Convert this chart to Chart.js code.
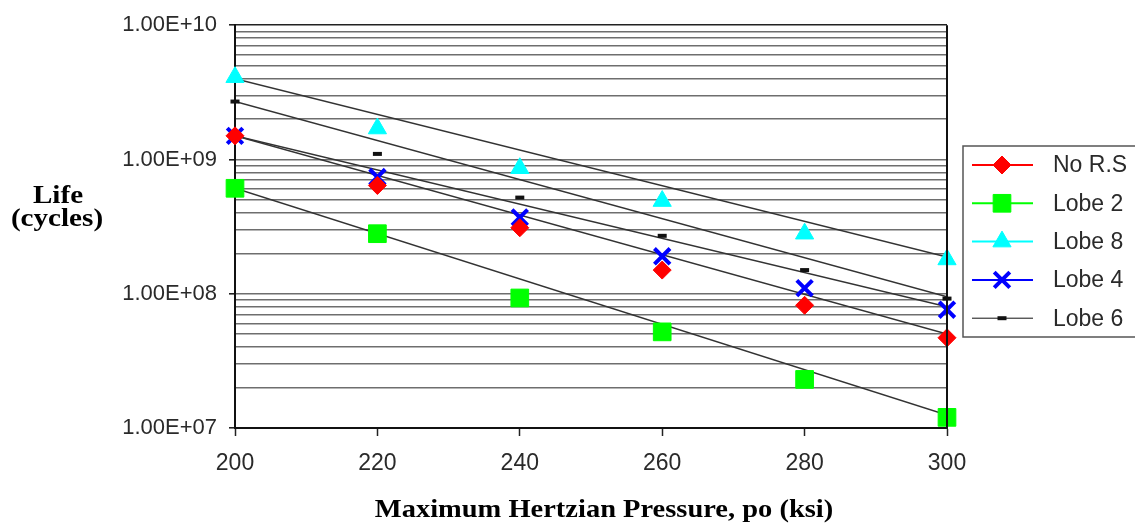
<!DOCTYPE html>
<html>
<head>
<meta charset="utf-8">
<script src="https://cdn.jsdelivr.net/npm/chart.js@4.4.0/dist/chart.umd.min.js"></script>
<style>
  html, body { margin: 0; padding: 0; background: #fff; }
  #wrap { position: relative; width: 1135px; height: 525px; }
  canvas { display: block; }
</style>
</head>
<body>
<div id="wrap"><canvas id="c" width="1135" height="525"></canvas></div>
<script>
// ---- data ----
const pressures = [200, 220, 240, 260, 280, 300];           // ksi
const noRS  = [1.5e9, 6.4e8, 3.1e8, 1.5e8, 8.2e7, 4.7e7];
const lobe2 = [6.1e8, 2.8e8, 9.3e7, 5.2e7, 2.3e7, 1.2e7];
const lobe8 = [4.1e9, 1.7e9, 8.6e8, 4.9e8, 2.8e8, 1.8e8];
const lobe4 = [1.5e9, 7.4e8, 3.7e8, 1.9e8, 1.1e8, 7.6e7];
const lobe6 = [2.7e9, 1.1e9, 5.2e8, 2.7e8, 1.5e8, 9.2e7];

// trend line end values (at 200 and 300 ksi)
const trendX     = [200, 300];
const trendNoRS  = [1.5e9, 5.0e7];
const trendLobe2 = [6.1e8, 1.25e7];
const trendLobe8 = [4.0e9, 1.88e8];
const trendLobe4 = [1.5e9, 8.0e7];
const trendLobe6 = [2.7e9, 9.5e7];

const seriesNames = ['No R.S', 'Lobe 2', 'Lobe 8', 'Lobe 4', 'Lobe 6'];
const xTicks = [200, 220, 240, 260, 280, 300];
const yMajorTicks = [1e7, 1e8, 1e9, 1e10];
const xTitle = 'Maximum Hertzian Pressure, po (ksi)';
const yTitleLines = ['Life', '(cycles)'];

// ---- styles ----
const styles = [
  { color: '#ff0000', pointStyle: 'rectRot',  radius: 9,    borderWidth: 1, lineWidth: 2 },
  { color: '#00ff00', pointStyle: 'rect',     radius: 12.5, borderWidth: 1, lineWidth: 2 },
  { color: '#00ffff', pointStyle: 'triangle', radius: 10.5, borderWidth: 1, lineWidth: 2 },
  { color: '#0000ff', pointStyle: 'crossRot', radius: 11,   borderWidth: 4, lineWidth: 2 },
  { color: '#111111', pointStyle: 'line',     radius: 4.5,  borderWidth: 4, lineWidth: 1 }
];

const pts = (xs, ys) => xs.map((x, i) => ({ x: x, y: ys[i] }));
const values = [noRS, lobe2, lobe8, lobe4, lobe6];
const trends = [trendNoRS, trendLobe2, trendLobe8, trendLobe4, trendLobe6];

const datasets = [];
values.forEach((v, i) => {
  const s = styles[i];
  datasets.push({
    label: seriesNames[i],
    data: pts(pressures, v),
    showLine: false,
    clip: false,
    pointStyle: s.pointStyle,
    pointRadius: s.radius,
    pointBackgroundColor: s.color,
    pointBorderColor: s.color,
    pointBorderWidth: s.borderWidth,
    order: i
  });
});
trends.forEach((t, i) => {
  datasets.push({
    label: seriesNames[i] + ' trend',
    data: pts(trendX, t),
    showLine: true,
    borderColor: '#333333',
    borderWidth: 1.5,
    pointRadius: 0,
    fill: false,
    order: 10 + i
  });
});

const fmtExp = v => {
  const e = Math.round(Math.log10(v));
  return '1.00E+' + (e < 10 ? '0' + e : '' + e);
};
const isMajor = v => {
  const l = Math.log10(v);
  return Math.abs(l - Math.round(l)) < 1e-9;
};

const overlay = {
  id: 'overlay',
  afterDraw(chart) {
    const ctx = chart.ctx;
    const a = chart.chartArea;
    ctx.save();
    // right border of plot
    ctx.strokeStyle = '#111';
    ctx.lineWidth = 2;
    ctx.beginPath();
    ctx.moveTo(a.right, a.top);
    ctx.lineTo(a.right, a.bottom);
    ctx.stroke();

    // axis titles
    ctx.fillStyle = '#000';
    ctx.font = 'bold 26px "Liberation Serif", "Times New Roman", serif';
    ctx.textAlign = 'center';
    ctx.textBaseline = 'alphabetic';
    ctx.save();
    ctx.translate(604, 517);
    ctx.scale(1.095, 1);
    ctx.fillText(xTitle, 0, 0);
    ctx.restore();
    ctx.save();
    ctx.translate(58, 203);
    ctx.scale(1.12, 1);
    ctx.fillText(yTitleLines[0], 0, 0);
    ctx.restore();
    ctx.save();
    ctx.translate(57, 226);
    ctx.scale(1.12, 1);
    ctx.fillText(yTitleLines[1], 0, 0);
    ctx.restore();

    // legend
    const lx = 963, ly = 146, lw = 180, lh = 191;
    ctx.strokeStyle = '#555';
    ctx.lineWidth = 1.5;
    ctx.strokeRect(lx, ly, lw, lh);
    ctx.font = '23px "Liberation Sans", Arial, sans-serif';
    ctx.textAlign = 'left';
    ctx.textBaseline = 'middle';
    seriesNames.forEach((name, i) => {
      const s = styles[i];
      const y = 165 + i * 38.3;
      ctx.strokeStyle = s.color;
      ctx.lineWidth = s.lineWidth;
      ctx.beginPath();
      ctx.moveTo(972, y);
      ctx.lineTo(1033, y);
      ctx.stroke();
      ctx.fillStyle = s.color;
      ctx.strokeStyle = s.color;
      ctx.lineWidth = s.borderWidth;
      Chart.helpers.drawPoint(ctx, {
        pointStyle: s.pointStyle, radius: s.radius, rotation: 0, borderWidth: s.borderWidth
      }, 1002, y);
      ctx.fillStyle = '#2a2a2a';
      ctx.fillText(name, 1053, y + 1);
    });
    ctx.restore();
  }
};

Chart.defaults.font.family = '"Liberation Sans", Arial, sans-serif';

new Chart(document.getElementById('c'), {
  type: 'scatter',
  data: { datasets: datasets },
  options: {
    responsive: false,
    animation: false,
    devicePixelRatio: 1,
    layout: { padding: { left: 0, right: 188, top: 21, bottom: 0 } },
    plugins: { legend: { display: false }, tooltip: { enabled: false } },
    scales: {
      x: {
        type: 'linear',
        min: 200, max: 300,
        afterBuildTicks: s => { s.ticks = xTicks.map(v => ({ value: v })); },
        afterFit: s => { s.height = 97; },
        grid: { drawOnChartArea: false, drawTicks: true, tickLength: 8, tickColor: '#222', tickWidth: 1.5 },
        border: { display: true, color: '#111', width: 2 },
        ticks: { color: '#2a2a2a', font: { size: 23 }, padding: 14, maxRotation: 0 }
      },
      y: {
        type: 'logarithmic',
        min: 1e7, max: 1e10,
        afterBuildTicks: s => {
          const t = [];
          for (let d = 7; d < 10; d++) {
            for (let m = 1; m <= 9; m++) t.push({ value: m * Math.pow(10, d) });
          }
          t.push({ value: 1e10 });
          s.ticks = t;
        },
        afterFit: s => { s.width = 235; },
        grid: {
          drawOnChartArea: true,
          drawTicks: true,
          tickLength: 6,
          color: ctx => (ctx.tick && ctx.tick.value === 1e10) ? '#222' : '#6e6e6e',
          lineWidth: 1.6,
          tickColor: ctx => (ctx.tick && isMajor(ctx.tick.value)) ? '#222' : 'rgba(0,0,0,0)'
        },
        border: { display: true, color: '#111', width: 2 },
        ticks: {
          color: '#2a2a2a',
          font: { size: 22 },
          padding: 12,
          autoSkip: false,
          callback: function (v) { return yMajorTicks.indexOf(v) >= 0 || isMajor(v) ? fmtExp(v) : ''; }
        }
      }
    }
  },
  plugins: [overlay]
});
</script>
</body>
</html>
